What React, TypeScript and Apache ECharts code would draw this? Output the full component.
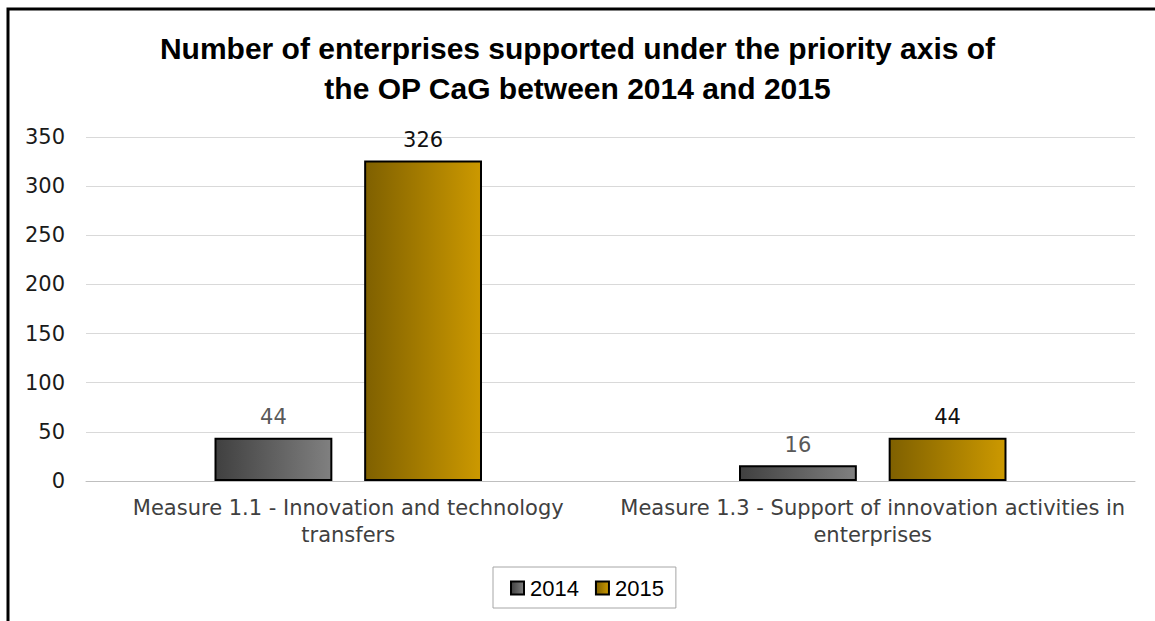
import React, { useEffect, useRef } from "react";
import * as echarts from "echarts";

const categories = [
  "Measure 1.1 - Innovation and technology\ntransfers",
  "Measure 1.3 - Support of innovation activities in\nenterprises",
];
const values2014 = [44, 16];
const values2015 = [326, 44];
const seriesNames = ["2014", "2015"];

const ARIAL = "Arial, 'Liberation Sans', sans-serif";
const WIDE = "'DejaVu Sans', Verdana, sans-serif";

export default function App() {
  const ref = useRef<HTMLDivElement>(null);
  useEffect(() => {
    document.body.style.margin = "0";
    const chart = echarts.init(ref.current!, null, { renderer: "svg" });
    const grad = (a: string, b: string) =>
      new echarts.graphic.LinearGradient(0, 0, 1, 0, [
        { offset: 0, color: a },
        { offset: 1, color: b },
      ]);
    chart.setOption({
      animation: false,
      backgroundColor: "#fff",
      textStyle: { fontFamily: ARIAL },
      title: {
        text: "Number of enterprises supported under the priority axis of\nthe OP CaG between 2014 and 2015",
        left: "center",
        top: 23,
        textStyle: {
          fontFamily: ARIAL,
          fontSize: 30,
          fontWeight: "bold",
          color: "#000",
          lineHeight: 40,
        },
      },
      grid: { left: 86, right: 20, top: 137, bottom: 140 },
      legend: {
        data: seriesNames,
        left: 493,
        top: 567,
        padding: [10, 12, 9, 17],
        borderColor: "#a6a6a6",
        borderWidth: 1,
        itemWidth: 13,
        itemHeight: 13,
        itemGap: 16,
        icon: "rect",
        textStyle: { fontFamily: ARIAL, fontSize: 22, color: "#000", padding: [0, 0, 0, 1] },
      },
      xAxis: {
        type: "category",
        data: categories,
        axisTick: { show: false },
        axisLine: { lineStyle: { color: "#bfbfbf", width: 1 } },
        axisLabel: {
          interval: 0,
          fontFamily: WIDE,
          fontSize: 21,
          color: "#404040",
          lineHeight: 27,
          margin: 13,
        },
      },
      yAxis: {
        type: "value",
        min: 0,
        max: 350,
        interval: 50,
        axisLine: { show: false },
        axisTick: { show: false },
        splitLine: { lineStyle: { color: "#d9d9d9", width: 1 } },
        axisLabel: { fontFamily: WIDE, fontSize: 21, color: "#1a1a1a", margin: 21 },
      },
      series: [
        {
          name: seriesNames[0],
          type: "bar",
          data: values2014,
          barGap: "27%",
          barCategoryGap: "49%",
          itemStyle: { color: grad("#404040", "#808080"), borderColor: "#000", borderWidth: 2 },
          label: { show: true, position: "top", distance: 10, fontFamily: WIDE, fontSize: 21, color: "#595959" },
        },
        {
          name: seriesNames[1],
          type: "bar",
          data: values2015,
          itemStyle: { color: grad("#7f6000", "#cc9900"), borderColor: "#000", borderWidth: 2 },
          label: { show: true, position: "top", distance: 10, fontFamily: WIDE, fontSize: 21, color: "#111" },
        },
      ],
      graphic: [
        {
          type: "polyline",
          shape: { points: [[8, 621], [8, 9], [1155, 9]] },
          style: { stroke: "#000", lineWidth: 3, fill: null },
          z: 100,
        },
      ],
    });
    return () => chart.dispose();
  }, []);
  return <div ref={ref} style={{ width: 1155, height: 621 }} />;
}
